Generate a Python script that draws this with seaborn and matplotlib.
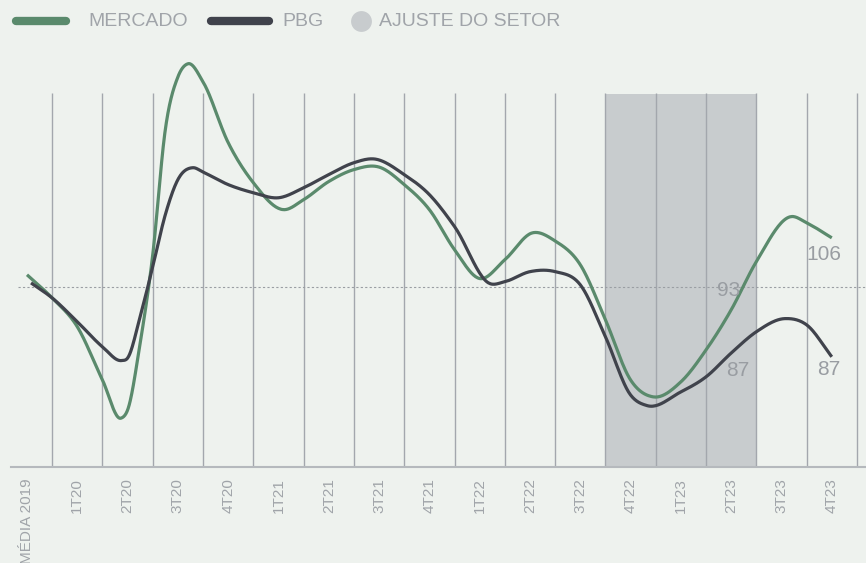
import numpy as np
import pandas as pd
import matplotlib
matplotlib.use("Agg")
import matplotlib.pyplot as plt
from matplotlib.lines import Line2D
import seaborn as sns

# ---------------- data ----------------
categories = ["MÉDIA 2019", "1T20", "2T20", "3T20", "4T20", "1T21", "2T21", "3T21",
              "4T21", "1T22", "2T22", "3T22", "4T22", "1T23", "2T23", "3T23", "4T23"]

mercado_t = [0, 0.5, 1, 1.5, 1.87, 2.0, 2.25, 2.5, 2.75, 3.0, 3.2, 3.5, 4, 4.5, 5.1, 5.5,
             6, 6.5, 7, 7.5, 8, 8.5, 9, 9.5, 10.05, 10.5, 11, 11.5, 12, 12.45, 13, 13.5,
             14, 14.5, 15.2, 15.5, 16]
mercado_v = [100.1, 96.4, 91.8, 83.3, 77.2, 78.5, 89.2, 103.3, 123.3, 131.7, 133.8, 130.9,
             121.2, 114.8, 110.5, 112.1, 115.0, 116.9, 117.3, 114.5, 110.5, 104.1, 99.5,
             102.5, 106.8, 105.5, 101.7, 92.9, 83.3, 80.6, 83.0, 88.1, 94.5, 102.2, 109.4,
             108.4, 106.0]

pbg_t = [0.08, 0.5, 1, 1.5, 1.88, 2.0, 2.25, 2.5, 2.75, 3.0, 3.3, 3.5, 4, 4.5, 5, 5.5,
         6, 6.5, 6.9, 7.5, 8, 8.5, 9.2, 9.5, 10, 10.5, 11, 11.5, 12, 12.33, 13, 13.5,
         14, 14.5, 15.07, 15.5, 16]
pbg_v = [98.8, 96.4, 92.6, 88.6, 86.4, 86.8, 93.4, 101.4, 109.7, 115.3, 117.2, 116.5,
         114.5, 113.2, 112.4, 114.0, 116.1, 118.0, 118.6, 116.1, 112.9, 107.8, 98.7,
         99.0, 100.6, 100.6, 98.5, 90.2, 80.9, 79.2, 81.4, 83.8, 87.6, 91.0, 93.1,
         92.1, 87.0]

reference_level = 98.2          # dotted line (média 2019)
adjust_start, adjust_end = "4T22", "2T23"

# value labels: (series, category, text)
value_labels = [("MERCADO", "4T23", "106"), ("MERCADO", "2T23", "93"),
                ("PBG", "2T23", "87"), ("PBG", "4T23", "87")]

# ---------------- style ----------------
BG = "#EEF2EE"
GREEN = "#5A8A6C"
DARK = "#40434C"
GRID = "#A3A7AD"
SHADE = "#C8CCCE"
TXT = "#A0A4A9"

sns.set_style("white", {"axes.facecolor": BG, "figure.facecolor": BG})
plt.rcParams["font.family"] = ["Liberation Sans", "DejaVu Sans"]


def smooth(t, v, n=24):
    t = np.asarray(t, float)
    v = np.asarray(v, float)
    m = np.gradient(v, t)
    xs, ys = [], []
    for i in range(len(t) - 1):
        h = t[i + 1] - t[i]
        s = np.linspace(0, 1, n, endpoint=False)
        h00 = 2 * s**3 - 3 * s**2 + 1
        h10 = s**3 - 2 * s**2 + s
        h01 = -2 * s**3 + 3 * s**2
        h11 = s**3 - s**2
        xs.append(t[i] + s * h)
        ys.append(h00 * v[i] + h10 * h * m[i] + h01 * v[i + 1] + h11 * h * m[i + 1])
    xs.append([t[-1]])
    ys.append([v[-1]])
    return np.concatenate(xs), np.concatenate(ys)


mx, my = smooth(mercado_t, mercado_v)
px, py = smooth(pbg_t, pbg_v)
df = pd.concat([
    pd.DataFrame({"t": mx, "v": my, "serie": "MERCADO"}),
    pd.DataFrame({"t": px, "v": py, "serie": "PBG"}),
], ignore_index=True)

fig = plt.figure(figsize=(8.66, 5.63), dpi=100)
ax = fig.add_axes([11 / 866, 96 / 563, 855 / 866, (467 - 55) / 563])

y_bottom, y_top = 69.4, 135.2
grid_top = 129.2
n = len(categories)

# shaded adjustment area
i0, i1 = categories.index(adjust_start), categories.index(adjust_end)
ax.fill_betweenx([y_bottom, grid_top - 0.3], i0 - 0.5, i1 + 0.5, color=SHADE, lw=0, zorder=1)

# vertical separators
ax.vlines(np.arange(n) + 0.5, y_bottom, grid_top, color=GRID, lw=1.0, zorder=2)

# dotted reference line
ax.axhline(reference_level, xmin=7 / 855, xmax=1, color="#9A9EA3", lw=0.8,
           ls=(0, (2, 2)), zorder=2)

sns.lineplot(data=df, x="t", y="v", hue="serie", estimator=None, sort=False,
             palette={"MERCADO": GREEN, "PBG": DARK}, lw=2.3,
             legend=False, ax=ax, zorder=4)
for line in ax.get_lines():
    line.set_solid_capstyle("butt")

# value labels
offsets = {("MERCADO", "4T23"): (-8, -17), ("MERCADO", "2T23"): (-3, 19),
           ("PBG", "2T23"): (7, -17), ("PBG", "4T23"): (-3, -13)}
for serie, cat, txt in value_labels:
    idx = categories.index(cat)
    tt = mercado_t if serie == "MERCADO" else pbg_t
    vv = mercado_v if serie == "MERCADO" else pbg_v
    j = int(np.argmin(np.abs(np.asarray(tt) - idx)))
    ax.annotate(txt, xy=(tt[j], vv[j]), xytext=offsets[(serie, cat)],
                textcoords="offset pixels", ha="center", va="center",
                fontsize=15, color="#999DA2", zorder=6)

ax.set_xlim(-0.318, 16.68)
ax.set_ylim(y_bottom, y_top)
ax.set_xticks(range(n))
ax.set_xticklabels(categories, rotation=90, va="top", ha="center",
                   fontsize=11, color=TXT)
ax.tick_params(axis="x", length=0, pad=8)
ax.set_yticks([])
ax.set_xlabel("")
ax.set_ylabel("")
for s in ["top", "right", "left"]:
    ax.spines[s].set_visible(False)
ax.spines["bottom"].set_color("#B5B9BD")
ax.spines["bottom"].set_linewidth(1.5)

# legend (top)
ly = 1 - 21 / 563
fig.add_artist(Line2D([16 / 866, 66 / 866], [ly, ly], transform=fig.transFigure,
                      color=GREEN, lw=6, solid_capstyle="round"))
fig.text(88 / 866, ly, "MERCADO", ha="left", va="center", fontsize=14, color=TXT)
fig.add_artist(Line2D([211 / 866, 269 / 866], [ly, ly], transform=fig.transFigure,
                      color=DARK, lw=6, solid_capstyle="round"))
fig.text(282 / 866, ly, "PBG", ha="left", va="center", fontsize=14, color=TXT)
fig.add_artist(Line2D([361 / 866], [ly], transform=fig.transFigure, marker="o",
                      markersize=15, color=SHADE, markeredgewidth=0, lw=0))
fig.text(379 / 866, ly, "AJUSTE DO SETOR", ha="left", va="center", fontsize=14, color=TXT)

fig.savefig("out.png", dpi=100, facecolor=BG)
